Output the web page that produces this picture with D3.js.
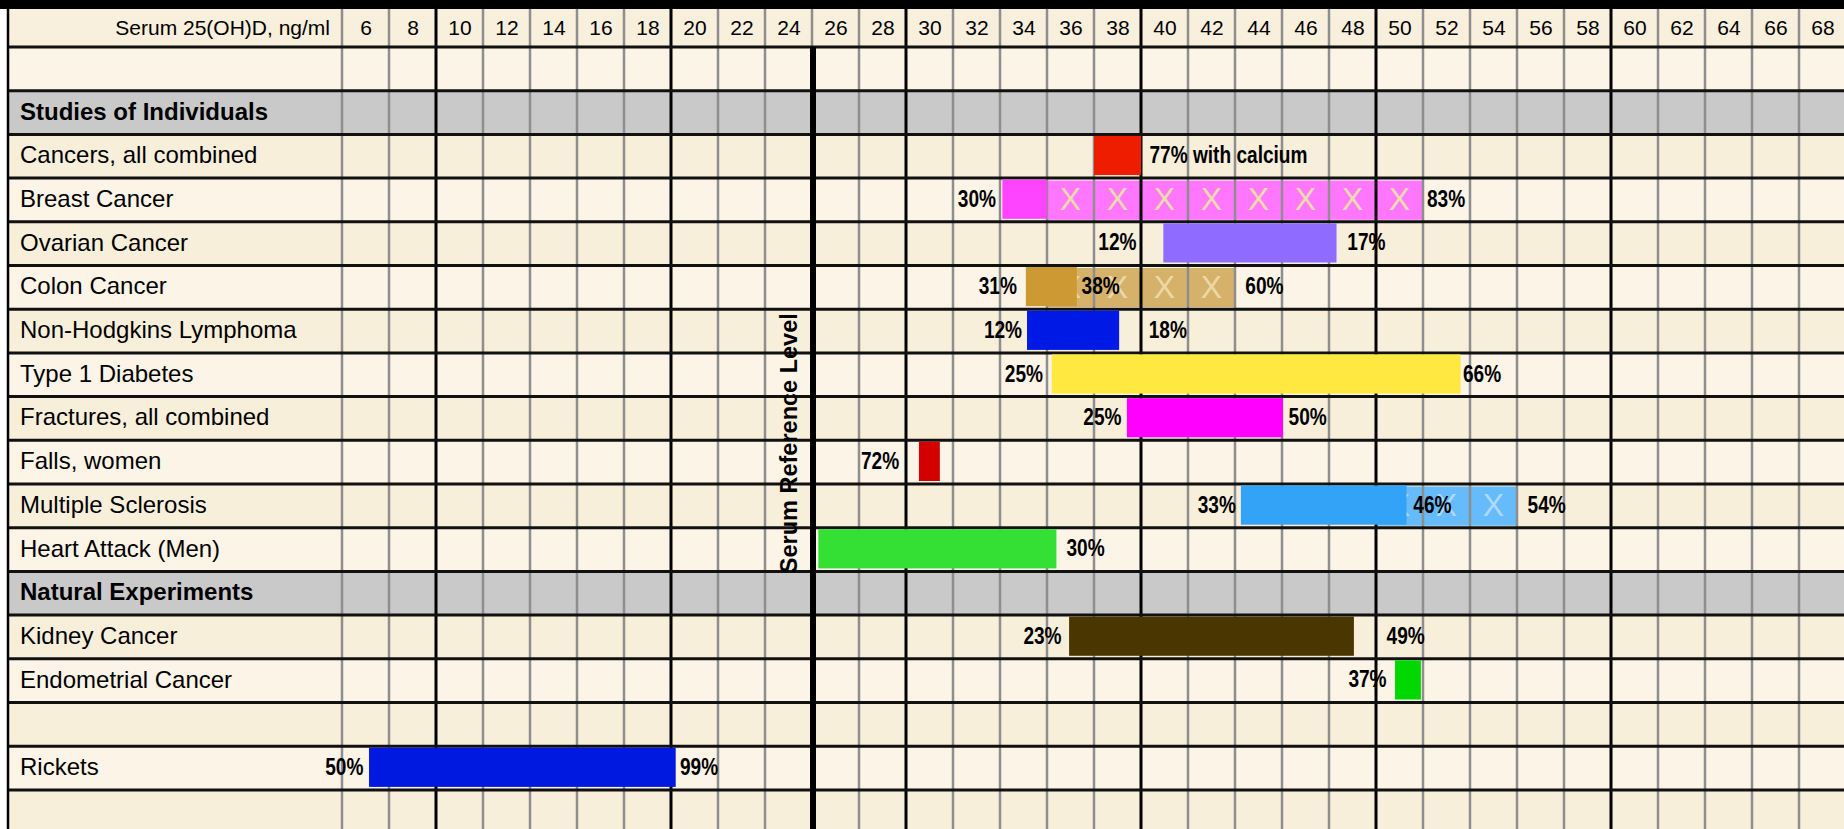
<!DOCTYPE html>
<html><head><meta charset="utf-8">
<script src="https://cdn.jsdelivr.net/npm/d3@7"></script>
<style>
html,body{margin:0;padding:0;background:#fff;}
svg{display:block;}
</style></head>
<body>
<svg id="chart" width="1844" height="829"></svg>
<script>
// ---------- data ----------
const rowLabels = ["", "Studies of Individuals", "Cancers, all combined", "Breast Cancer", "Ovarian Cancer",
  "Colon Cancer", "Non-Hodgkins Lymphoma", "Type 1 Diabetes", "Fractures, all combined", "Falls, women",
  "Multiple Sclerosis", "Heart Attack (Men)", "Natural Experiments", "Kidney Cancer", "Endometrial Cancer",
  "", "Rickets", ""];
const sectionHeaders = ["Studies of Individuals", "Natural Experiments"];
const serumTicks = [6,8,10,12,14,16,18,20,22,24,26,28,30,32,34,36,38,40,42,44,46,48,50,52,54,56,58,60,62,64,66,68];
const axisTitle = "Serum 25(OH)D, ng/ml";
const referenceLevel = 25;
const referenceLabel = "Serum Reference Level";

// solid bars (serum ng/ml range)
const barRows  = ["Cancers, all combined", "Breast Cancer", "Ovarian Cancer", "Colon Cancer", "Non-Hodgkins Lymphoma",
  "Type 1 Diabetes", "Fractures, all combined", "Falls, women", "Multiple Sclerosis", "Heart Attack (Men)",
  "Kidney Cancer", "Endometrial Cancer", "Rickets"];
const barStart = [37, 33.1, 39.95, 34.1, 34.15, 35.2, 38.4, 29.55, 43.25, 25.27, 35.94, 49.81, 6.15];
const barEnd   = [39, 35.0, 47.32, 36.27, 38.07, 52.6, 45.04, 30.44, 50.3, 35.4, 48.06, 50.91, 19.2];
const barColors = ["#ef1d00", "#ff44ff", "#8f6cff", "#cc9933", "#0019e4", "#ffe840", "#ff00ff", "#d40000",
  "#33a3f8", "#33e033", "#4a3600", "#00d800", "#0019e0"];

// extended (X-marked) ranges
const hatchRows  = ["Breast Cancer", "Colon Cancer", "Multiple Sclerosis"];
const hatchStart = [35, 35, 49];
const hatchEnd   = [51, 43, 55];
const hatchColors = ["#ff77ff", "#d6b169", "#66bbfa"];
const hatchMarkColors = ["#efdcab", "#ecd8a6", "#aed8fc"];

// percentage annotations
const annotRows = ["Cancers, all combined", "Breast Cancer", "Breast Cancer", "Ovarian Cancer", "Ovarian Cancer",
  "Colon Cancer", "Colon Cancer", "Colon Cancer", "Non-Hodgkins Lymphoma", "Non-Hodgkins Lymphoma",
  "Type 1 Diabetes", "Type 1 Diabetes", "Fractures, all combined", "Fractures, all combined", "Falls, women",
  "Multiple Sclerosis", "Multiple Sclerosis", "Multiple Sclerosis", "Heart Attack (Men)",
  "Kidney Cancer", "Kidney Cancer", "Endometrial Cancer", "Rickets", "Rickets"];
const annotTexts = ["77% with calcium", "30%", "83%", "12%", "17%", "31%", "38%", "60%", "12%", "18%",
  "25%", "66%", "25%", "50%", "72%", "33%", "46%", "54%", "30%", "23%", "49%", "37%", "50%", "99%"];
const annotAt = [39.36, 32.83, 51.17, 38.81, 47.78, 33.72, 36.47, 43.44, 33.94, 39.33,
  34.83, 52.7, 38.17, 45.28, 28.71, 43.04, 50.59, 55.45, 35.83, 35.62, 49.45, 49.45, 5.91, 19.38];
const annotSide = ["start", "end", "start", "end", "start", "end", "start", "start", "end", "start",
  "end", "start", "end", "start", "end", "end", "start", "start", "start", "end", "start", "end", "end", "start"];

// ---------- layout ----------
const W = 1844, H = 829;
const headerTop = 9, headerBottom = 47, rowH = 43.7;
const labelX = 20;
const svg = d3.select("#chart");
const FONT = "'Liberation Sans', Arial, Helvetica, sans-serif";

const x = d3.scaleLinear().domain([5, 69]).range([342, 1846]);
const y = d3.scaleBand().domain(d3.range(rowLabels.length))
  .range([headerBottom, headerBottom + rowLabels.length * rowH]).padding(0);
const rowIndex = name => rowLabels.indexOf(name);

// background
svg.append("rect").attr("width", W).attr("height", H).attr("fill", "#fff");
svg.append("rect").attr("x", 8).attr("y", headerTop).attr("width", W - 8).attr("height", headerBottom - headerTop).attr("fill", "#f8efdc");

// row shading
let k = 1;
const shades = rowLabels.map(l => {
  if (sectionHeaders.includes(l)) { k = 0; return "#c9c9c9"; }
  const c = (k % 2 === 0) ? "#f8efdb" : "#fbf4e7";
  k++;
  return c;
});
svg.append("g").selectAll("rect").data(rowLabels).join("rect")
  .attr("x", 8).attr("y", (d, i) => y(i)).attr("width", W - 8).attr("height", y.bandwidth())
  .attr("fill", (d, i) => shades[i]);

// hatched extended ranges
const hatches = hatchRows.map((r, i) => ({row: rowIndex(r), s: hatchStart[i], e: hatchEnd[i], c: hatchColors[i], m: hatchMarkColors[i]}));
svg.append("g").selectAll("rect").data(hatches).join("rect")
  .attr("x", d => x(d.s)).attr("width", d => x(d.e) - x(d.s))
  .attr("y", d => y(d.row) + 2.5).attr("height", y.bandwidth() - 4.5)
  .attr("fill", d => d.c);
const marks = hatches.flatMap(d => d3.range(d.s + 1, d.e, 2).map(v => ({v, row: d.row, m: d.m})));
svg.append("g").selectAll("text").data(marks).join("text")
  .attr("x", d => x(d.v)).attr("y", d => y(d.row) + y.bandwidth() / 2 + 10.5)
  .attr("text-anchor", "middle").attr("font-family", FONT).attr("font-size", 32)
  .attr("fill", d => d.m).text("X");

// vertical grid
const bounds = d3.range(5, 70, 2);
svg.append("g").selectAll("line").data(bounds).join("line")
  .attr("x1", d => x(d)).attr("x2", d => x(d)).attr("y1", headerTop).attr("y2", H)
  .attr("stroke", d => ((d - 9) % 10 === 0) ? "#000" : "#8e8e8e")
  .attr("stroke-width", d => ((d - 9) % 10 === 0) ? 3 : 2.5);

// horizontal grid
const hLines = d3.range(rowLabels.length).map(i => y(i));
svg.append("g").selectAll("line").data(hLines).join("line")
  .attr("x1", 8).attr("x2", W).attr("y1", d => d).attr("y2", d => d)
  .attr("stroke", "#111").attr("stroke-width", 3);

// top band and left border
svg.append("rect").attr("x", 0).attr("y", 0).attr("width", W).attr("height", headerTop).attr("fill", "#000");
svg.append("line").attr("x1", 8).attr("x2", 8).attr("y1", 0).attr("y2", H).attr("stroke", "#000").attr("stroke-width", 2.5);

// reference line
svg.append("line").attr("x1", x(referenceLevel) + 1).attr("x2", x(referenceLevel) + 1)
  .attr("y1", headerBottom).attr("y2", H).attr("stroke", "#000").attr("stroke-width", 6);

// solid bars
const bars = barRows.map((r, i) => ({row: rowIndex(r), s: barStart[i], e: barEnd[i], c: barColors[i]}));
svg.append("g").selectAll("rect").data(bars).join("rect")
  .attr("x", d => x(d.s)).attr("width", d => x(d.e) - x(d.s))
  .attr("y", d => y(d.row) + 1.5).attr("height", y.bandwidth() - 4.5)
  .attr("fill", d => d.c);

// header axis
const axis = d3.axisTop(x).tickValues(serumTicks).tickSize(0).tickPadding(0);
const ag = svg.append("g").attr("transform", `translate(0,${headerTop + (headerBottom - headerTop) / 2 + 7})`).call(axis);
ag.select(".domain").remove();
ag.selectAll("text").attr("font-family", FONT).attr("font-size", 21).attr("fill", "#000").attr("dy", 0);
svg.append("text").attr("x", x(5) - 12).attr("y", headerTop + (headerBottom - headerTop) / 2 + 7)
  .attr("text-anchor", "end").attr("font-family", FONT).attr("font-size", 21).attr("fill", "#000").text(axisTitle);

// row labels
svg.append("g").selectAll("text").data(rowLabels).join("text")
  .attr("x", labelX).attr("y", (d, i) => y(i) + y.bandwidth() / 2 + 7)
  .attr("font-family", FONT).attr("font-size", 24)
  .attr("font-weight", d => sectionHeaders.includes(d) ? "bold" : "normal")
  .attr("fill", "#000").text(d => d);

// percentage annotations
const annots = annotRows.map((r, i) => ({row: rowIndex(r), t: annotTexts[i], at: annotAt[i], side: annotSide[i]}));
svg.append("g").selectAll("text").data(annots).join("text")
  .attr("transform", d => `translate(${x(d.at)},${y(d.row) + y.bandwidth() / 2 + 6.8}) scale(0.83,1)`)
  .attr("text-anchor", d => d.side)
  .attr("font-family", FONT).attr("font-size", 23).attr("font-weight", "bold").attr("fill", "#000")
  .text(d => d.t);

// vertical reference label
svg.append("text")
  .attr("transform", `translate(${x(referenceLevel) - 15},${y(rowIndex("Non-Hodgkins Lymphoma"))+ 134}) rotate(-90)`)
  .attr("text-anchor", "middle").attr("font-family", FONT).attr("font-size", 23.5).attr("font-weight", "bold")
  .attr("fill", "#000").text(referenceLabel);
</script>
</body></html>
